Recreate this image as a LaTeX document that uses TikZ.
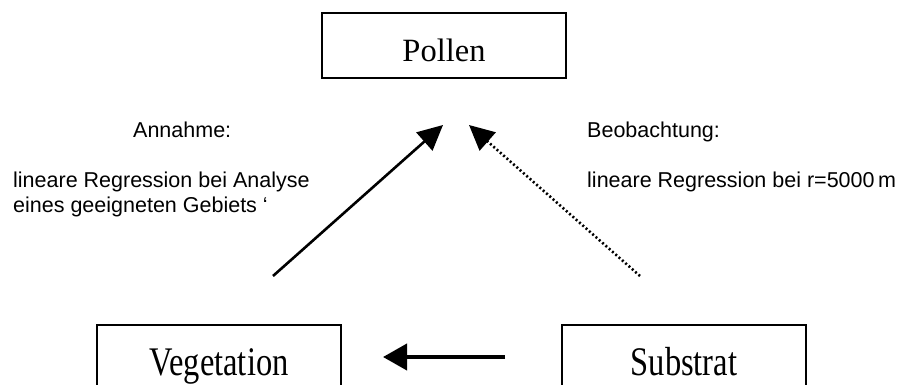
\documentclass[tikz,border=0pt]{standalone}
\usepackage{fontspec}
\setmainfont{Liberation Serif}
\newfontfamily\labelfont{Liberation Sans}
\usetikzlibrary{arrows.meta}

\tikzset{
  box/.style={draw, line width=1.4pt, minimum width=244pt, minimum height=65pt, inner sep=0pt},
  boxtext/.style={font=\fontsize{32.5}{36}\selectfont, inner sep=0pt, anchor=base},
  note/.style={font=\labelfont\fontsize{21.5}{25}\selectfont, inner sep=0pt, anchor=base west},
  link/.style={line width=2.6pt, -{Triangle[length=25pt,width=24pt]}},
  weaklink/.style={link, dash pattern=on 2pt off 2.4pt},
  sidelink/.style={line width=4pt, -{Triangle[length=24pt,width=26pt]}}
}

\begin{document}
\begin{tikzpicture}[x=1pt,y=-1pt]
  \useasboundingbox (0,0) rectangle (899,385);
  \clip (0,0) rectangle (899,385);

  % boxes
  \node[box] (pollen) at (444,45.5) {};
  \node[boxtext] (pollentext) at (444,62) {Pollen};

  \node[box] (veg) at (219,357.5) {};
  \node[boxtext] (vegtext) at (219,375) {\scalebox{1}[1.25]{Vegetation}};

  \node[box] (sub) at (684,357.5) {};
  \node[boxtext] (subtext) at (684,375) {\scalebox{1}[1.25]{Substrat}};

  % arrow end points
  \coordinate (vegout) at (273,276);
  \coordinate (pollenin1) at (443,125);
  \coordinate (subout) at (640,276);
  \coordinate (pollenin2) at (469,125);
  \coordinate (subleft) at (505,357);
  \coordinate (vegright) at (383,357);

  \draw[link] (vegout) -- (pollenin1);
  \draw[weaklink] (subout) -- (pollenin2);
  \draw[sidelink] (subleft) -- (vegright);

  % annotations
  \node[note] (ann) at (133,137) {Annahme:};
  \node[note] (ann1) at (13,187) {lineare Regression bei Analyse};
  \node[note] (ann2) at (13,212) {eines geeigneten Gebiets ‘};

  \node[note] (obs) at (587,137) {Beobachtung:};
  \node[note] (obs1) at (587,187) {lineare Regression bei r=5000\,m};
\end{tikzpicture}
\end{document}
